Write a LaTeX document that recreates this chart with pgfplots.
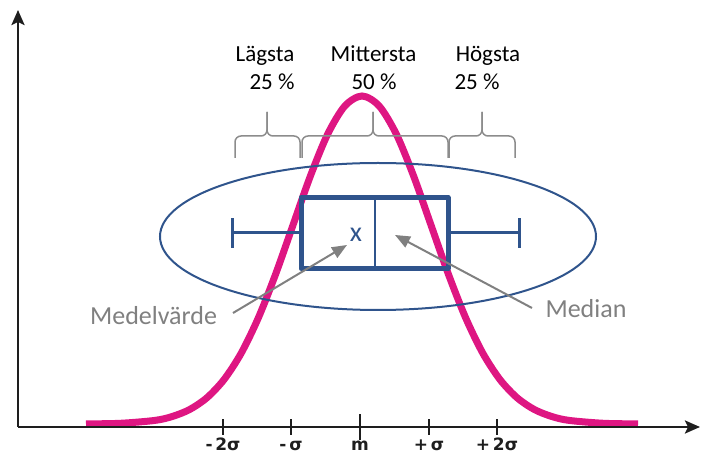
\documentclass[border=0pt]{standalone}
\usepackage{fontspec}
\setmainfont{Carlito}
\newfontfamily\tickfont{DejaVu Sans}
\usepackage{pgfplots}
\pgfplotsset{compat=1.18}
\usepgfplotslibrary{statistics}
\usetikzlibrary{arrows.meta}

\definecolor{curve}{RGB}{222,22,130}
\definecolor{boxblue}{RGB}{47,84,140}
\definecolor{notegray}{RGB}{128,128,128}
\definecolor{bracegray}{RGB}{140,140,140}
\definecolor{axisdark}{RGB}{30,30,30}

% normalfördelning, avläst i bildpunkter (x) och höjd över x-axeln (y)
\pgfplotstableread{
x      y
86     3.1
120.5  3.7
155    6.6
172.25 10.5
189.5  17.4
206.75 29.1
224    47.4
241.25 73.9
258.5  109.5
275.75 153.2
293    201.9
310.25 250.6
327.5  292.5
344.75 320.9
362    331
379.25 320.9
396.5  292.5
413.75 250.6
431    201.9
448.25 153.2
465.5  109.5
482.75 73.9
500    47.4
517.25 29.1
534.5  17.4
551.75 10.5
569    6.6
603.5  3.7
638    3.1
}\bellcurve

\tikzset{brace/.style={bracegray, line width=1.5pt, rounded corners=6pt}}

\begin{document}
\begin{tikzpicture}
\path[use as bounding box] (0,0) rectangle (702pt,463pt);
\begin{axis}[
    at={(18pt,36pt)}, anchor=south west,
    scale only axis, width=682pt, height=417pt,
    xmin=18, xmax=700, ymin=0, ymax=417,
    axis lines=left,
    axis line style={draw=axisdark, line width=2.5pt, -{Stealth[length=15pt,width=13pt,inset=3pt]}},
    axis on top,
    clip=false,
    ytick=\empty,
    xtick={223,291,429,497},
    xticklabels={-\,2σ,-\,σ,+\,σ,+\,2σ},
    extra x ticks={360},
    extra x tick labels={m},
    extra x tick style={major tick length=26pt, xticklabel style={yshift=5pt}},
    tick align=center,
    major tick length=16pt,
    tick style={draw=axisdark, line width=2pt},
    xticklabel style={font=\tickfont\bfseries\fontsize{17}{20}\selectfont, text=axisdark, inner sep=0pt, anchor=base, yshift=-16pt},
]
\addplot[curve, line width=7pt, smooth] table[x=x, y=y] {\bellcurve};

\draw[boxblue, line width=2pt] (axis cs:378,190.5) ellipse [x radius=218pt, y radius=73.5pt];

\addplot[draw=boxblue, line width=5pt, line join=round, mark=none,
    boxplot/draw direction=x,
    boxplot/every whisker/.style={line width=3pt},
    boxplot/every median/.style={line width=2pt},
    boxplot prepared={lower whisker=232, lower quartile=301, median=375,
        upper quartile=448, upper whisker=519, draw position=194,
        box extend=71, whisker extend=30}]
    coordinates {};

\node[text=boxblue, inner sep=0pt, font=\fontsize{28}{30}\selectfont] at (axis cs:356,192) {x};

% klamrar
\draw[brace] (axis cs:235,269) -- (axis cs:235,291) -- (axis cs:267,291) -- (axis cs:267,315);
\draw[brace] (axis cs:300,269) -- (axis cs:300,291) -- (axis cs:267,291) -- (axis cs:267,315);
\draw[brace] (axis cs:302,269) -- (axis cs:302,291) -- (axis cs:373,291) -- (axis cs:373,315);
\draw[brace] (axis cs:448,269) -- (axis cs:448,291) -- (axis cs:373,291) -- (axis cs:373,315);
\draw[brace] (axis cs:449,269) -- (axis cs:449,291) -- (axis cs:482,291) -- (axis cs:482,315);
\draw[brace] (axis cs:515,269) -- (axis cs:515,291) -- (axis cs:482,291) -- (axis cs:482,315);

\begin{scope}[every node/.style={inner sep=0pt, anchor=base, font=\fontsize{23}{26}\selectfont}]
\node at (axis cs:265,365) {Lägsta};
\node at (axis cs:272,337) {25 \%};
\node at (axis cs:373.5,365) {Mittersta};
\node at (axis cs:374,337) {50 \%};
\node at (axis cs:488,365) {Högsta};
\node at (axis cs:477,337) {25 \%};
\end{scope}

\draw[notegray, line width=2pt, -{Triangle[length=15pt,width=12pt]}] (axis cs:233,114) -- (axis cs:347,182);
\draw[notegray, line width=2pt, -{Triangle[length=15pt,width=12pt]}] (axis cs:532,119) -- (axis cs:395,192);

\node[text=notegray, inner sep=0pt, anchor=base, font=\fontsize{26}{30}\selectfont] at (axis cs:153.5,102) {Medelvärde};
\node[text=notegray, inner sep=0pt, anchor=base, font=\fontsize{26}{30}\selectfont] at (axis cs:586,109) {Median};
\end{axis}
\end{tikzpicture}
\end{document}
